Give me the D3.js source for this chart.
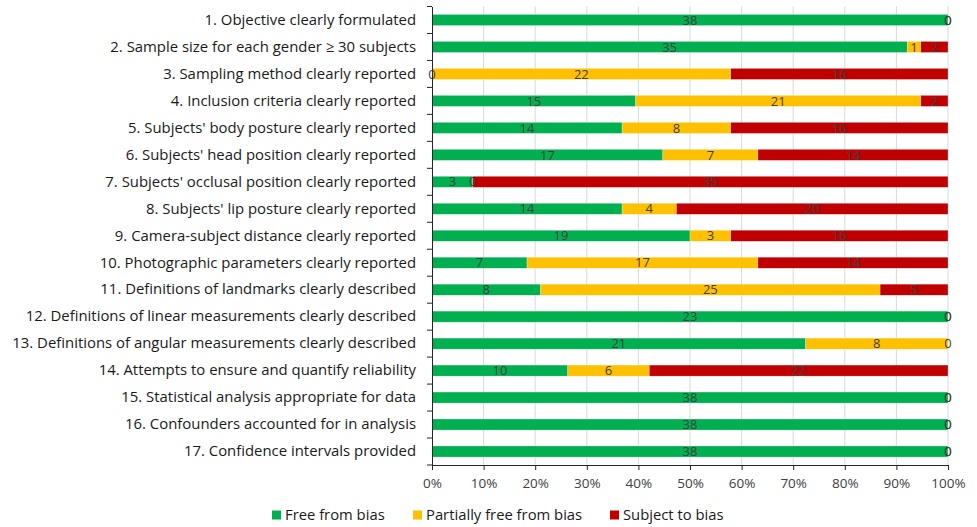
<!DOCTYPE html>
<html>
<head>
<meta charset="utf-8">
<script src="https://cdn.jsdelivr.net/npm/d3@7"></script>
<style>
  body { margin: 0; background: #fff; }
  text { font-family: "Open Sans", "Noto Sans", sans-serif; }
</style>
</head>
<body>
<script>
// categories, top to bottom
const categories = [
  '1. Objective clearly formulated',
  '2. Sample size for each gender \u2265 30 subjects',
  '3. Sampling method clearly reported',
  '4. Inclusion criteria clearly reported',
  "5. Subjects' body posture clearly reported",
  "6. Subjects' head position clearly reported",
  "7. Subjects' occlusal position clearly reported",
  "8. Subjects' lip posture clearly reported",
  '9. Camera-subject distance clearly reported',
  '10. Photographic parameters clearly reported',
  '11. Definitions of landmarks clearly described',
  '12. Definitions of linear measurements clearly described',
  '13. Definitions of angular measurements clearly described',
  '14. Attempts to ensure and quantify reliability',
  '15. Statistical analysis appropriate for data',
  '16. Confounders accounted for in analysis',
  '17. Confidence intervals provided'
]

// series values (number of studies)
const freeFromBias      = [38, 35, 0, 15, 14, 17, 3, 14, 19, 7, 8, 23, 21, 10, 38, 38, 38]
const partiallyFree     = [ 0,  1, 22, 21, 8, 7, 0, 4, 3, 17, 25, 0, 8, 6, 0, 0, 0]
const subjectToBias     = [ 0,  2, 16, 2, 16, 14, 35, 20, 16, 14, 5, 0, 0, 22, 0, 0, 0]

const seriesNames = ['Free from bias', 'Partially free from bias', 'Subject to bias']
const seriesColors = ['#00B050', '#FFC000', '#C00000']
const xTicks = [0, 0.1, 0.2, 0.3, 0.4, 0.5, 0.6, 0.7, 0.8, 0.9, 1]

const W = 977, H = 527
const plotLeft = 432, plotRight = 948, plotTop = 6.5, plotBottom = 465

const svg = d3.select('body').append('svg')
  .attr('width', W)
  .attr('height', H)

const x = d3.scaleLinear().domain([0, 1]).range([plotLeft, plotRight])
const y = d3.scaleBand().domain(categories).range([plotTop, plotBottom]).paddingInner(0.59).paddingOuter(0.295)
const step = y.step()

// build rows for the stack
const rows = categories.map((c, i) => {
  const total = freeFromBias[i] + partiallyFree[i] + subjectToBias[i]
  return { cat: c, total: total, s0: freeFromBias[i], s1: partiallyFree[i], s2: subjectToBias[i] }
})
const stack = d3.stack().keys(['s0', 's1', 's2'])
  .value((d, k) => d[k] / d.total)
const layers = stack(rows)

// gridlines
svg.append('g')
  .selectAll('line')
  .data(xTicks.slice(1))
  .enter().append('line')
  .attr('x1', d => x(d)).attr('x2', d => x(d))
  .attr('y1', plotTop).attr('y2', plotBottom)
  .attr('stroke', '#d9d9d9')
  .attr('stroke-width', 1)

// bars
const layerG = svg.append('g')
  .selectAll('g')
  .data(layers)
  .enter().append('g')
  .attr('fill', (d, i) => seriesColors[i])

layerG.selectAll('rect')
  .data(d => d)
  .enter().append('rect')
  .attr('x', d => x(d[0]))
  .attr('y', d => y(d.data.cat))
  .attr('width', d => x(d[1]) - x(d[0]))
  .attr('height', y.bandwidth())
  .attr('stroke', 'rgba(255,255,255,0.5)')
  .attr('stroke-width', 0.5)

// data labels
layers.forEach((layer, li) => {
  svg.append('g')
    .selectAll('text')
    .data(layer)
    .enter().append('text')
    .attr('x', d => (x(d[0]) + x(d[1])) / 2)
    .attr('y', d => y(d.data.cat) + y.bandwidth() / 2)
    .attr('dy', '0.36em')
    .attr('text-anchor', 'middle')
    .attr('font-size', 13)
    .attr('fill', '#404040')
    .text(d => d.data[layer.key])
})

// y axis
const yAxis = d3.axisLeft(y).tickSize(0).tickPadding(16)
const yG = svg.append('g')
  .attr('transform', `translate(${plotLeft},0)`)
  .call(yAxis)
yG.select('.domain').attr('stroke', '#262626')
yG.selectAll('text')
  .attr('font-size', 14.9)
  .attr('fill', '#1a1a1a')
  .style('font-family', '"Open Sans", sans-serif')
// tick marks between categories
yG.selectAll('.sep')
  .data(d3.range(categories.length + 1))
  .enter().append('line')
  .attr('class', 'sep')
  .attr('x1', -5).attr('x2', 0)
  .attr('y1', i => plotTop + i * step).attr('y2', i => plotTop + i * step)
  .attr('stroke', '#262626')

// x axis
const xAxis = d3.axisBottom(x).tickValues(xTicks).tickFormat(d3.format('.0%')).tickSize(5).tickPadding(8)
const xG = svg.append('g')
  .attr('transform', `translate(0,${plotBottom})`)
  .call(xAxis)
xG.select('.domain').attr('stroke', '#262626')
xG.selectAll('.tick line').attr('stroke', '#262626')
xG.selectAll('text')
  .attr('font-size', 13.5)
  .attr('fill', '#404040')
  .style('font-family', '"Open Sans", sans-serif')

// legend
const legendX = [272, 413, 610]
const legend = svg.append('g')
  .selectAll('g')
  .data(seriesNames)
  .enter().append('g')
  .attr('transform', (d, i) => `translate(${legendX[i]},515)`)
legend.append('rect')
  .attr('x', 0).attr('y', -4.5)
  .attr('width', 9).attr('height', 9)
  .attr('fill', (d, i) => seriesColors[i])
legend.append('text')
  .attr('x', 13)
  .attr('dy', '0.36em')
  .attr('font-size', 14.8)
  .attr('fill', '#1a1a1a')
  .text(d => d)
</script>
</body>
</html>
